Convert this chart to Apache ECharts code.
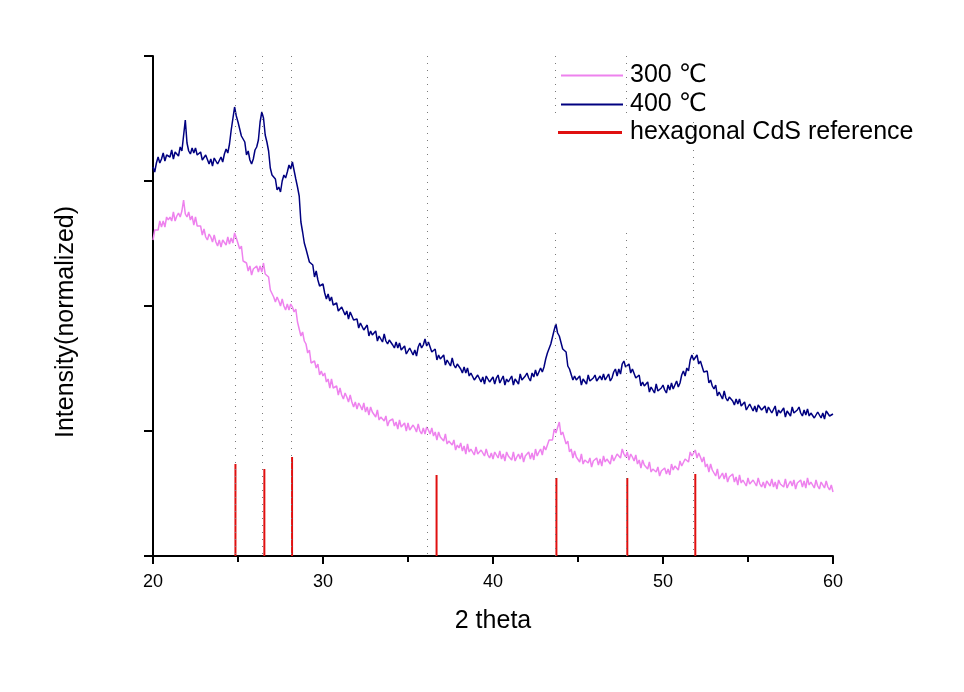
<!DOCTYPE html>
<html>
<head>
<meta charset="utf-8">
<script src="https://cdn.jsdelivr.net/npm/echarts@6/dist/echarts.min.js"></script>
<style>
html,body{margin:0;padding:0;background:#fff;}
#chart{width:964px;height:692px;}
</style>
</head>
<body>
<div id="chart"></div>
<script>
// 2-theta sampling grid (degrees): start and step of the measured scans
const thetaStart = 20.0;
const thetaStepTenths = 1; // 0.1 degree

// Normalized intensity (arbitrary units), 20.0 .. 60.0 deg every 0.1 deg
const intensity400 = [
389,384,393,399,393,397,403,395,401,399,
399,406,397,404,406,400,409,405,405,436,
413,405,402,408,403,408,401,403,404,396,
397,401,402,392,397,390,398,399,392,394,
399,394,402,407,403,412,426,427,449,440,
434,434,420,419,414,401,405,396,392,397,
406,409,416,434,444,438,421,414,405,388,
381,380,377,366,369,364,375,381,378,384,
391,387,394,393,377,369,360,334,324,313,
307,308,294,294,291,279,285,276,270,272,
272,263,257,262,255,259,251,252,253,245,
245,249,250,241,245,237,244,244,236,235,
237,228,233,235,226,227,231,220,225,221,
220,225,215,220,222,214,222,215,212,216,
218,211,208,214,208,213,206,208,210,202,
204,208,210,201,206,200,209,213,208,211,
217,210,214,214,204,204,207,196,201,197,
196,201,191,196,197,190,198,191,188,192,
194,187,183,189,183,188,180,183,184,176,
177,181,183,174,179,172,180,182,174,175,
179,172,178,181,173,175,180,171,177,174,
174,180,171,177,179,172,182,176,174,180,
183,178,175,183,179,186,180,184,188,184,
189,197,203,201,212,212,226,232,223,220,
219,207,207,204,190,187,188,176,180,176,
175,180,171,177,179,172,181,175,173,178,
181,175,173,180,176,182,176,179,182,175,
178,184,187,180,187,182,192,195,189,189,
192,183,187,188,178,178,181,170,174,170,
169,174,164,169,171,163,172,165,163,168,
171,166,163,171,166,173,167,171,175,169,
173,181,185,180,188,185,196,201,196,198,
201,192,195,195,184,183,185,173,176,170,
167,171,160,164,165,157,165,158,155,159,
161,155,151,157,152,157,150,152,154,146,
148,152,154,145,150,144,151,153,146,146,
150,143,149,151,143,145,150,140,146,143,
143,148,139,145,147,140,149,143,141,146,
149,143,140,146,141,147,140,143,145,138,
140,144,146,138,143,137,145,147,140,141,
142
];

const intensity300 = [
316,326,327,326,335,329,335,329,339,336,
339,335,344,335,340,343,339,345,356,342,
339,344,336,340,331,339,330,331,330,321,
327,319,316,322,319,314,321,314,310,316,
309,316,314,311,319,312,318,313,323,318,
316,307,310,295,294,293,285,290,281,287,
285,290,284,290,284,293,282,281,279,266,
268,259,254,259,255,250,257,250,246,252,
246,252,249,244,247,234,233,220,224,215,
212,203,206,193,194,195,188,192,181,185,
180,183,174,177,168,177,168,169,170,161,
168,161,157,163,159,154,161,154,149,154,
147,153,150,146,153,144,149,141,149,144,
145,139,146,136,139,141,135,140,130,135,
133,137,130,134,127,136,129,131,133,125,
133,126,124,131,128,124,132,125,122,128,
122,129,126,122,128,120,124,116,124,119,
121,115,122,112,115,117,111,116,106,111,
108,113,105,110,102,112,104,107,108,101,
109,102,100,106,104,100,107,101,98,103,
97,104,101,98,105,97,102,95,104,100,
101,96,104,95,99,102,97,103,94,100,
99,104,97,103,96,107,100,104,107,101,
110,106,106,116,117,116,127,123,122,134,
121,124,118,112,115,104,107,98,105,99,
100,94,102,92,96,98,93,98,89,95,
93,98,91,97,90,100,94,97,99,92,
101,95,94,102,101,98,107,102,99,104,
96,102,99,95,101,92,96,88,96,91,
92,87,94,84,87,89,84,89,80,85,
83,88,82,87,81,92,86,90,92,86,
95,90,89,97,96,94,104,100,99,106,
98,103,99,94,99,89,92,84,92,86,
86,80,87,77,80,83,77,83,74,79,
77,82,74,79,71,81,73,76,77,70,
78,72,70,76,74,70,78,72,69,74,
68,75,73,70,77,69,74,67,76,72,
74,69,77,68,72,75,70,76,67,73,
71,76,69,75,68,78,71,74,75,68,
76,70,67,74,72,68,75,69,66,71,
64
];

// Hexagonal CdS reference lines: positions (deg) and relative heights
const refTheta = [24.85, 26.55, 28.18, 36.68, 43.73, 47.90, 51.90];
const refHeight = [92, 87, 99, 81, 78, 78, 82];

// Dotted guide lines: [theta, from, to] in intensity units
const guideLines = [
  [24.85, 500, 0],
  [26.40, 500, 0],
  [28.15, 500, 0],
  [36.12, 500, 0],
  [43.65, 500, 438], [43.65, 323, 0],
  [47.85, 500, 438], [47.85, 323, 0],
  [51.80, 434, 0]
];

const xTicks = [20, 30, 40, 50, 60];
const seriesNames = ['300 ℃', '400 ℃', 'hexagonal CdS reference'];

function toPairs(arr) {
  return arr.map((v, i) => [(thetaStart * 10 + i * thetaStepTenths) / 10, v]);
}

const FONT = '"Liberation Sans", Arial, "DejaVu Sans", sans-serif';
const chart = echarts.init(document.getElementById('chart'), null, {renderer: 'canvas'});

chart.setOption({
  animation: false,
  backgroundColor: '#ffffff',
  textStyle: {fontFamily: FONT},
  grid: {left: 153, right: 131, top: 56, bottom: 136, containLabel: false},
  legend: [
    {
      data: [seriesNames[0], seriesNames[1]],
      orient: 'vertical',
      left: 561, top: 63, padding: 0,
      itemWidth: 62, itemHeight: 2, itemGap: 4,
      icon: 'rect',
      textStyle: {fontSize: 25, color: '#000', fontFamily: FONT, lineHeight: 25, padding: [0,0,0,2]},
      selectedMode: false
    },
    {
      data: [seriesNames[2]],
      orient: 'vertical',
      left: 558, top: 120, padding: 0,
      itemWidth: 64, itemHeight: 3,
      icon: 'rect',
      textStyle: {fontSize: 25, color: '#000', fontFamily: FONT, lineHeight: 25, padding: [0,0,0,3]},
      selectedMode: false
    }
  ],
  xAxis: {
    type: 'value', min: xTicks[0], max: xTicks[xTicks.length - 1], interval: 10,
    name: '2 theta', nameLocation: 'middle', nameGap: 53,
    nameTextStyle: {fontSize: 25, color: '#000', fontFamily: FONT},
    axisLine: {show: true, onZero: false, lineStyle: {color: '#000', width: 2}},
    axisTick: {show: true, inside: false, length: 8, lineStyle: {color: '#000', width: 2}},
    minorTick: {show: true, splitNumber: 2, length: 6, lineStyle: {color: '#000', width: 2}},
    axisLabel: {fontSize: 18, color: '#000', margin: 17, fontFamily: FONT},
    splitLine: {show: false}
  },
  yAxis: {
    type: 'value', min: 0, max: 500, interval: 125,
    name: 'Intensity(normalized)', nameLocation: 'middle', nameGap: 74,
    nameTextStyle: {fontSize: 25, color: '#000', fontFamily: FONT, padding: [0, 32, 0, 0]},
    axisLine: {show: true, lineStyle: {color: '#000', width: 2}},
    axisTick: {show: true, inside: false, length: 9, lineStyle: {color: '#000', width: 2}},
    axisLabel: {show: false},
    splitLine: {show: false}
  },
  series: [
    {
      name: seriesNames[2],
      type: 'bar',
      data: refTheta.map((t, i) => [t, refHeight[i]]),
      barWidth: 2,
      itemStyle: {color: '#e01010'},
      z: 1,
      markLine: {
        silent: true,
        symbol: ['none', 'none'],
        label: {show: false},
        lineStyle: {color: '#7a7a7a', width: 1, type: [1, 6]},
        data: guideLines.map(g => [{coord: [g[0], g[1]]}, {coord: [g[0], g[2]]}])
      }
    },
    {
      name: seriesNames[0],
      type: 'line',
      data: toPairs(intensity300),
      showSymbol: false,
      symbol: 'none',
      lineStyle: {color: '#ee82ee', width: 1.5},
      itemStyle: {color: '#ee82ee'},
      z: 3
    },
    {
      name: seriesNames[1],
      type: 'line',
      data: toPairs(intensity400),
      showSymbol: false,
      symbol: 'none',
      lineStyle: {color: '#000080', width: 1.5},
      itemStyle: {color: '#000080'},
      z: 3
    }
  ]
});
</script>
</body>
</html>
